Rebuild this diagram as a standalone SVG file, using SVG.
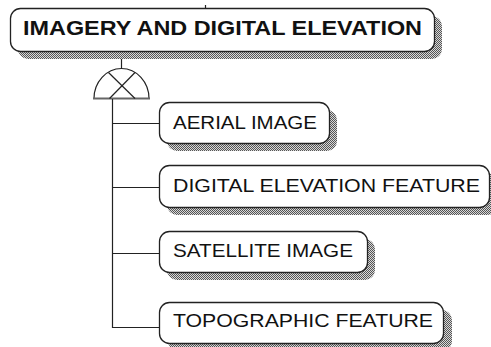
<svg xmlns="http://www.w3.org/2000/svg" width="491" height="347" viewBox="0 0 491 347">
<defs>
<pattern id="dots" width="2" height="2" patternUnits="userSpaceOnUse">
<rect width="2" height="2" fill="#d8d8d8"/>
<rect width="1" height="1" fill="#555"/>
<rect x="1" y="1" width="1" height="1" fill="#555"/>
</pattern>
</defs>
<style>
.box{fill:#fff;stroke:#222;stroke-width:1.3}
.shadow{fill:url(#dots);stroke:none}
.t{font-family:"Liberation Sans",Arial,sans-serif;font-size:19px;fill:#111}
.tb{font-family:"Liberation Sans",Arial,sans-serif;font-size:20px;font-weight:bold;fill:#111}
.ln{stroke:#222;stroke-width:1.2;fill:none}
</style>
<rect width="491" height="347" fill="#fff"/>
<g id="connectors">
<line class="ln" x1="205.5" y1="5" x2="205.5" y2="8"/>
<line class="ln" x1="121.5" y1="51" x2="121.5" y2="68"/>
<path class="ln" d="M94,98.5 A27.5,30 0 0 1 149,98.5"/>
<line x1="93" y1="98.5" x2="150" y2="98.5" stroke="#666" stroke-width="2"/>
<line class="ln" x1="108.5" y1="72.5" x2="135" y2="98.5"/>
<line class="ln" x1="135" y1="72.5" x2="109.5" y2="98.5"/>
<path class="ln" d="M112.5,99 V327.5 H160"/>
<line class="ln" x1="112.5" y1="123.5" x2="160" y2="123.5"/>
<line class="ln" x1="112.5" y1="187.5" x2="160" y2="187.5"/>
<line class="ln" x1="112.5" y1="253.5" x2="160" y2="253.5"/>
</g>
<g id="imagery">
<rect class="shadow" x="18" y="16" width="424" height="43" rx="10"/>
<rect class="box" x="10.5" y="8.5" width="424" height="43" rx="10"/>
<text class="tb" x="23" y="35" textLength="399" lengthAdjust="spacingAndGlyphs">IMAGERY AND DIGITAL ELEVATION</text>
</g>
<g id="aerial">
<rect class="shadow" x="167" y="110" width="170" height="41" rx="10"/>
<rect class="box" x="159.5" y="102.5" width="170" height="41" rx="10"/>
<text class="t" x="173" y="129" textLength="144" lengthAdjust="spacingAndGlyphs">AERIAL IMAGE</text>
</g>
<g id="digital">
<rect class="shadow" x="167" y="173" width="330" height="42" rx="10"/>
<rect class="box" x="159.5" y="165.5" width="330" height="42" rx="10"/>
<text class="t" x="173" y="192" textLength="307" lengthAdjust="spacingAndGlyphs">DIGITAL ELEVATION FEATURE</text>
</g>
<g id="satellite">
<rect class="shadow" x="167" y="239" width="208" height="41" rx="10"/>
<rect class="box" x="159.5" y="231.5" width="208" height="41" rx="10"/>
<text class="t" x="173" y="257" textLength="180" lengthAdjust="spacingAndGlyphs">SATELLITE IMAGE</text>
</g>
<g id="topographic">
<rect class="shadow" x="168" y="310" width="284" height="41" rx="10"/>
<rect class="box" x="159.5" y="302.5" width="284" height="41" rx="10"/>
<text class="t" x="173" y="327" textLength="260" lengthAdjust="spacingAndGlyphs">TOPOGRAPHIC FEATURE</text>
</g>
</svg>
